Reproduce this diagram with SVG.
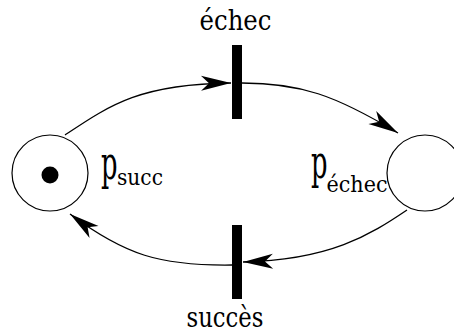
<svg xmlns="http://www.w3.org/2000/svg" width="454" height="333" viewBox="0 0 454 333">
<style>
.t{font-family:"DejaVu Serif",serif;fill:#000}
.lbl{font-size:27px}
.p{font-size:46px}
.sub{font-size:23px}
.place{fill:#fff;stroke:#000;stroke-width:1.2}
.bar{fill:#000}
.arc{fill:none;stroke:#000;stroke-width:1.3}
</style>
<defs>
<marker id="ah" markerUnits="userSpaceOnUse" markerWidth="34" markerHeight="20" viewBox="-32 -10 34 20" refX="0" refY="0" orient="auto">
<path d="M0,0 L-30,-7.5 L-22,0 L-30,7.5 Z" fill="#000"/>
</marker>
</defs>
<rect width="454" height="333" fill="#fff"/>
<g id="connectors">
<path class="arc" d="M65,135 C110,105 140,84 231,83" marker-end="url(#ah)"/>
<path class="arc" d="M242,83 C300,83 335,95 398,133" marker-end="url(#ah)"/>
<path class="arc" d="M407,210 C370,235 330,260 243,262" marker-end="url(#ah)"/>
<path class="arc" d="M232,265 C160,266 125,255 70,214" marker-end="url(#ah)"/>
</g>
<g id="p_succ">
<circle class="place" cx="50" cy="173" r="38"/>
<circle cx="50" cy="175" r="8.5" fill="#000"/>
<text class="t p" transform="translate(101,179) scale(0.56,1)">p</text>
<text class="t sub" x="117" y="185" textLength="46" lengthAdjust="spacingAndGlyphs">succ</text>
</g>
<g id="p_echec">
<circle class="place" cx="425" cy="173" r="38"/>
<text class="t p" transform="translate(311,178) scale(0.56,1)">p</text>
<text class="t sub" x="326.5" y="192" font-size="22" textLength="61" lengthAdjust="spacingAndGlyphs">échec</text>
</g>
<g id="t_echec">
<rect class="bar" x="232" y="45" width="10" height="74"/>
<text class="t lbl" x="199.5" y="30" textLength="72" lengthAdjust="spacingAndGlyphs">échec</text>
</g>
<g id="t_succes">
<rect class="bar" x="232" y="225" width="10" height="74"/>
<text class="t lbl" x="186.5" y="327" textLength="77" lengthAdjust="spacingAndGlyphs">succès</text>
</g>
</svg>
